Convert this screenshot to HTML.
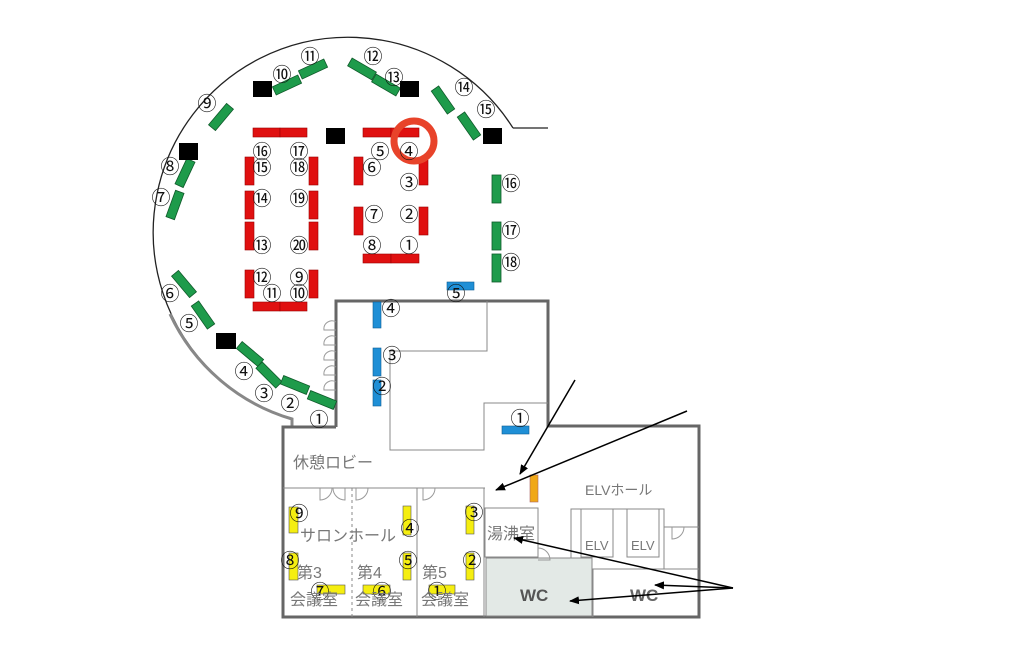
<!DOCTYPE html>
<html><head><meta charset="utf-8"><style>
html,body{margin:0;padding:0;background:#fff}
svg{display:block}
text{font-family:"Liberation Sans","Noto Sans CJK JP",sans-serif}
.n{font-size:19px;fill:#111;font-family:"DejaVu Sans","Noto Sans CJK JP",sans-serif}
.j{font-size:16px;fill:#777}
</style></head><body>
<svg width="1024" height="664" viewBox="0 0 1024 664" xmlns="http://www.w3.org/2000/svg">
<defs><marker id="a" markerWidth="10" markerHeight="8" refX="9" refY="4" orient="auto" markerUnits="userSpaceOnUse"><path d="M0,0 L10,4 L0,8 z" fill="#000"/></marker></defs>
<path d="M513,128 A195,195 0 1 0 292,419" fill="none" stroke="#222" stroke-width="1.3"/>
<path d="M170,314 A195,195 0 0 0 292,419 L292,427" fill="none" stroke="#888" stroke-width="3"/>
<line x1="513" y1="128" x2="548" y2="128" stroke="#222" stroke-width="1.3"/>
<g fill="none" stroke="#666" stroke-width="3">
<path d="M336,427 L336,301 L548,301 L548,426 L699,426 L699,617 L283,617 L283,427 L336,427"/>
</g>
<g fill="none" stroke="#888" stroke-width="1">
<path d="M390,351 L487,351 L487,301"/>
<path d="M390,351 L390,450 L484,450 L484,403 L548,403"/>
<line x1="283" y1="488" x2="485" y2="488"/>
<line x1="352" y1="488" x2="352" y2="617" stroke-dasharray="3,3"/>
<line x1="417" y1="488" x2="417" y2="617"/>
<line x1="484" y1="488" x2="484" y2="617"/>
<rect x="485" y="508" width="53" height="49"/>
<rect x="571" y="509" width="93" height="60"/>
<rect x="581" y="509" width="32" height="48"/>
<rect x="627" y="509" width="32" height="48"/>
<line x1="664" y1="527" x2="699" y2="527"/>
<line x1="593" y1="569" x2="593" y2="617"/>
<line x1="593" y1="569" x2="699" y2="569"/>
</g>
<rect x="486" y="558" width="106" height="58" fill="#e3e9e6" stroke="#888"/>
<g fill="none" stroke="#999" stroke-width="1">
<path d="M320,488 v12 a12,12 0 0 0 12,-12 M345,488 v12 a12,12 0 0 1 -12,-12"/>
<path d="M356,488 v12 a12,12 0 0 0 12,-12"/>
<path d="M423,488 v12 a12,12 0 0 0 12,-12"/>
<path d="M538,560 h12 a12,12 0 0 0 -12,-12"/>
<path d="M672,527 v12 a12,12 0 0 0 12,-12"/>
<path d="M336,330 h-12 a8,8 0 0 1 12,-8 M336,345 h-12 a8,8 0 0 1 12,-8 M336,360 h-12 a8,8 0 0 1 12,-8 M336,375 h-12 a8,8 0 0 1 12,-8 M336,390 h-12 a8,8 0 0 1 12,-8"/>
</g>
<g fill="#1e9b4b" stroke="#0f5a2a" stroke-width="0.8">
<rect x="-14" y="-4.5" width="28" height="9" transform="translate(287,85) rotate(-25)"/>
<rect x="-14" y="-4.5" width="28" height="9" transform="translate(313,69) rotate(-25)"/>
<rect x="-14" y="-4.5" width="28" height="9" transform="translate(362,69) rotate(30)"/>
<rect x="-14" y="-4.5" width="28" height="9" transform="translate(386,85) rotate(30)"/>
<rect x="-14" y="-4.5" width="28" height="9" transform="translate(443,100) rotate(55)"/>
<rect x="-14" y="-4.5" width="28" height="9" transform="translate(469,126) rotate(55)"/>
<rect x="-14" y="-4.5" width="28" height="9" transform="translate(221,117) rotate(-50)"/>
<rect x="-14" y="-4.5" width="28" height="9" transform="translate(185,173) rotate(-65)"/>
<rect x="-14" y="-4.5" width="28" height="9" transform="translate(175,205) rotate(-70)"/>
<rect x="-14" y="-4.5" width="28" height="9" transform="translate(184,284) rotate(50)"/>
<rect x="-14" y="-4.5" width="28" height="9" transform="translate(203,315) rotate(55)"/>
<rect x="-14" y="-4.5" width="28" height="9" transform="translate(250,354) rotate(40)"/>
<rect x="-14" y="-4.5" width="28" height="9" transform="translate(269,375) rotate(45)"/>
<rect x="-14" y="-4.5" width="28" height="9" transform="translate(295,385) rotate(22)"/>
<rect x="-14" y="-4.5" width="28" height="9" transform="translate(322,400) rotate(22)"/>
<rect x="492" y="175" width="9" height="28"/>
<rect x="492" y="222" width="9" height="28"/>
<rect x="492" y="254" width="9" height="28"/>
</g>
<g fill="#000">
<rect x="253" y="81" width="19" height="16"/><rect x="400" y="81" width="19" height="16"/>
<rect x="326" y="128" width="19" height="16"/><rect x="483" y="128" width="19" height="16"/>
<rect x="179" y="143" width="19" height="17"/><rect x="216" y="333" width="20" height="16"/>
</g>
<g fill="#e01010" stroke="#900" stroke-width="0.6">
<rect x="253" y="128" width="27" height="9"/><rect x="280" y="128" width="27" height="9"/>
<rect x="363" y="128" width="28" height="9"/><rect x="391" y="128" width="28" height="9"/>
<rect x="245" y="157" width="9" height="28"/><rect x="245" y="191" width="9" height="28"/><rect x="245" y="222" width="9" height="28"/><rect x="245" y="270" width="9" height="28"/>
<rect x="309" y="157" width="9" height="28"/><rect x="309" y="191" width="9" height="28"/><rect x="309" y="222" width="9" height="28"/><rect x="309" y="270" width="9" height="28"/>
<rect x="253" y="302" width="27" height="9"/><rect x="280" y="302" width="27" height="9"/>
<rect x="354" y="157" width="9" height="28"/><rect x="419" y="160" width="9" height="25"/>
<rect x="354" y="207" width="9" height="28"/><rect x="419" y="207" width="9" height="28"/>
<rect x="363" y="254" width="28" height="9"/><rect x="391" y="254" width="28" height="9"/>
</g>
<circle cx="414" cy="141" r="20" fill="none" stroke="#e8432a" stroke-width="7"/>
<g fill="#1f8fd6" stroke="#0c5d94" stroke-width="0.6">
<rect x="447" y="282" width="27" height="8"/><rect x="373" y="302" width="8" height="26"/>
<rect x="373" y="348" width="8" height="28"/><rect x="373" y="380" width="8" height="26"/>
<rect x="502" y="426" width="27" height="8"/>
</g>
<rect x="530" y="475" width="8" height="27" fill="#f0a818" stroke="#a66" stroke-width="0.6"/>
<g fill="#f5ee10" stroke="#555" stroke-width="0.6">
<rect x="289" y="507" width="9" height="26"/><rect x="403" y="506" width="8" height="29"/><rect x="466" y="506" width="8" height="28"/>
<rect x="289" y="553" width="9" height="27"/><rect x="403" y="553" width="8" height="27"/><rect x="466" y="553" width="8" height="27"/>
<rect x="317" y="585" width="28" height="9"/><rect x="363" y="585" width="27" height="9"/><rect x="429" y="585" width="26" height="9"/>
</g>
<g class="n" text-anchor="middle">
<text x="282" y="81">⑩</text><text x="310" y="63">⑪</text><text x="373" y="63">⑫</text><text x="394" y="84">⑬</text>
<text x="464" y="94">⑭</text><text x="486" y="116">⑮</text><text x="207" y="110">⑨</text><text x="170" y="173">⑧</text><text x="161" y="204">⑦</text>
<text x="170" y="300">⑥</text><text x="189" y="330">⑤</text><text x="244" y="378">④</text><text x="264" y="400">③</text><text x="290" y="410">②</text><text x="319" y="426">①</text>
<text x="262" y="158">⑯</text><text x="299" y="158">⑰</text><text x="262" y="174">⑮</text><text x="299" y="174">⑱</text>
<text x="262" y="205">⑭</text><text x="299" y="205">⑲</text><text x="262" y="252">⑬</text><text x="299" y="252">⑳</text>
<text x="262" y="284">⑫</text><text x="299" y="284">⑨</text><text x="272" y="300">⑪</text><text x="299" y="300">⑩</text>
<text x="380" y="158">⑤</text><text x="409" y="158">④</text><text x="372" y="174">⑥</text><text x="409" y="189">③</text>
<text x="374" y="221">⑦</text><text x="409" y="221">②</text><text x="372" y="252">⑧</text><text x="409" y="252">①</text>
<text x="511" y="190">⑯</text><text x="511" y="237">⑰</text><text x="511" y="269">⑱</text>
<text x="456" y="300">⑤</text><text x="391" y="315">④</text><text x="392" y="362">③</text><text x="382" y="393">②</text><text x="520" y="425">①</text>
<text x="299" y="520">⑨</text><text x="410" y="535">④</text><text x="474" y="519">③</text>
<text x="290" y="567">⑧</text><text x="408" y="567">⑤</text><text x="472" y="567">②</text>
<text x="320" y="598">⑦</text><text x="382" y="598">⑥</text><text x="437" y="598">①</text>
</g>
<g class="j">
<text x="293" y="468">休憩ロビー</text>
<text x="300" y="541">サロンホール</text>
<text x="297" y="578">第3</text><text x="357" y="578">第4</text><text x="422" y="578">第5</text>
<text x="290" y="605">会議室</text><text x="355" y="605">会議室</text><text x="421" y="605">会議室</text>
<text x="487" y="539">湯沸室</text>
<text x="585" y="495" style="font-size:14px">ELVホール</text>
<text x="585" y="550" style="font-size:13px">ELV</text><text x="631" y="550" style="font-size:13px">ELV</text>
<text x="520" y="601" style="font-size:17px;font-weight:bold;fill:#555">WC</text>
<text x="630" y="601" style="font-size:17px;font-weight:bold;fill:#666">WC</text>
</g>
<g stroke="#000" stroke-width="1.5" fill="none" marker-end="url(#a)">
<line x1="575" y1="380" x2="520" y2="474"/>
<line x1="687" y1="411" x2="496" y2="490"/>
<line x1="733" y1="588" x2="514" y2="538"/>
<line x1="733" y1="588" x2="655" y2="585"/>
<line x1="733" y1="588" x2="570" y2="601"/>
</g>
</svg>
</body></html>
